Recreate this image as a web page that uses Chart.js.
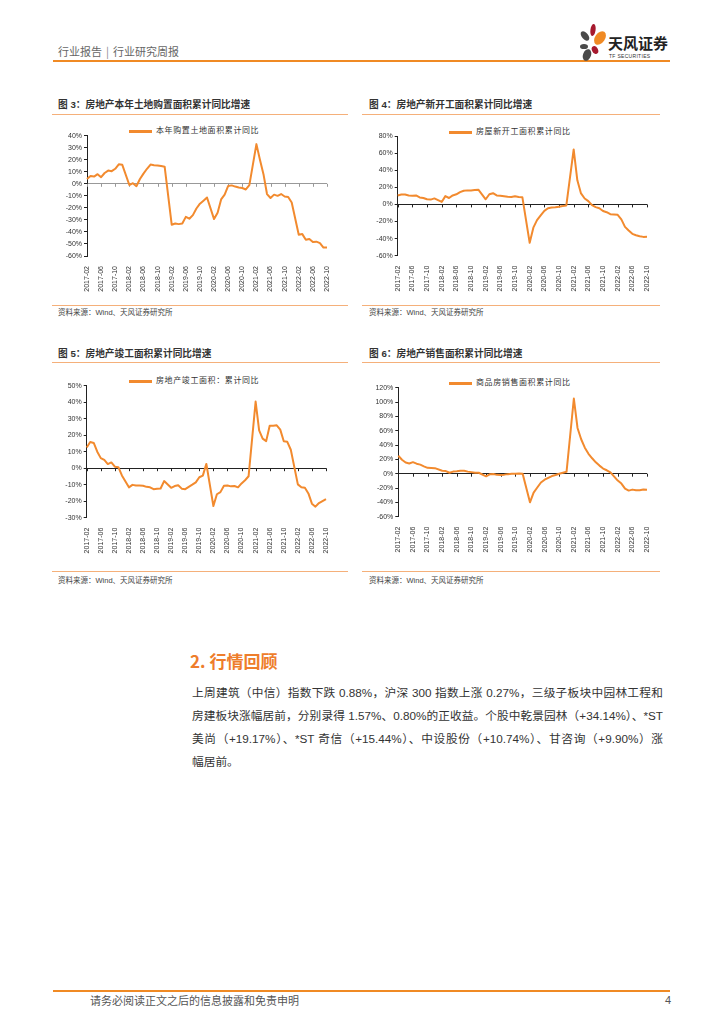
<!DOCTYPE html>
<html>
<head>
<meta charset="utf-8">
<script src="https://cdn.jsdelivr.net/npm/chart.js@4.4.1/dist/chart.umd.min.js"></script>
<style>
body{margin:0;width:724px;height:1024px;background:#fff;position:relative;overflow:hidden;font-family:"Liberation Sans","Noto Sans CJK SC",sans-serif}
.hline{position:absolute;height:1px;background:#F5B07A}
.ctitle{position:absolute;font-size:9.7px;font-weight:bold;color:#333;white-space:nowrap;line-height:12px}
.src{position:absolute;font-size:7.5px;color:#444;white-space:nowrap;line-height:10px}
.legend{position:absolute;font-size:8px;letter-spacing:0.6px;color:#333;white-space:nowrap;line-height:10px}
.legend i{position:absolute;left:0;top:4px;width:23px;height:2.5px;background:#F28A2E}
.legend span{position:absolute;left:27px;top:0}
canvas{position:absolute}
.para{position:absolute;left:192px;top:681px;width:471px;font-size:11.7px;color:#333;line-height:23px}
.para div{white-space:nowrap}
.para .j{text-align:justify;text-align-last:justify}
</style>
</head>
<body>

<!-- 页眉 -->
<div style="position:absolute;left:58px;top:44px;font-size:11px;color:#666;font-family:'Noto Sans CJK SC';line-height:14px">行业报告<span style="margin:0 4px;color:#888">|</span>行业研究周报</div>
<div style="position:absolute;left:53px;top:60px;width:617px;height:2px;background:#F08A24"></div>
<svg style="position:absolute;left:575px;top:22px" width="36" height="40" viewBox="0 0 36 40">
  <ellipse cx="18" cy="8" rx="2.6" ry="6" fill="#A6192E" transform="rotate(8 18 8)"/>
  <ellipse cx="25" cy="16" rx="5" ry="7.5" fill="#F08A24" transform="rotate(35 25 16)"/>
  <ellipse cx="10" cy="14" rx="3.2" ry="5.5" fill="#4A4A4A" transform="rotate(-40 10 14)"/>
  <ellipse cx="9" cy="24.5" rx="4" ry="2.6" fill="#4A4A4A"/>
  <ellipse cx="12" cy="33" rx="4" ry="6" fill="#4A4A4A" transform="rotate(20 12 33)"/>
  <ellipse cx="20" cy="28" rx="3" ry="4.2" fill="#A6192E" transform="rotate(-25 20 28)"/>
</svg>
<div style="position:absolute;left:608px;top:34px;font-size:15px;font-weight:bold;color:#222;font-family:'Noto Sans CJK SC';line-height:18px">天风证券</div>
<div style="position:absolute;left:609px;top:53px;font-size:5px;color:#333;letter-spacing:0.3px;line-height:6px">TF SECURITIES</div>

<!-- 图 3 / 图 4 -->
<div class="ctitle" style="left:58px;top:99px">图 3：房地产本年土地购置面积累计同比增速</div>
<div class="hline" style="left:52px;top:114px;width:296px"></div>
<div class="legend" style="left:129px;top:126px"><i></i><span>本年购置土地面积累计同比</span></div>
<canvas id="c3"></canvas>
<div class="hline" style="left:52px;top:305px;width:296px"></div>
<div class="src" style="left:58px;top:308px">资料来源：Wind、天风证券研究所</div>

<div class="ctitle" style="left:369px;top:99px">图 4：房地产新开工面积累计同比增速</div>
<div class="hline" style="left:362px;top:114px;width:298px"></div>
<div class="legend" style="left:449px;top:127px"><i></i><span>房屋新开工面积累计同比</span></div>
<canvas id="c4"></canvas>
<div class="hline" style="left:362px;top:305px;width:298px"></div>
<div class="src" style="left:369px;top:308px">资料来源：Wind、天风证券研究所</div>

<!-- 图 5 / 图 6 -->
<div class="ctitle" style="left:58px;top:348px">图 5：房地产竣工面积累计同比增速</div>
<div class="hline" style="left:52px;top:362px;width:296px"></div>
<div class="legend" style="left:129px;top:376px"><i></i><span>房地产竣工面积：累计同比</span></div>
<canvas id="c5"></canvas>
<div class="hline" style="left:52px;top:571px;width:296px"></div>
<div class="src" style="left:58px;top:576px">资料来源：Wind、天风证券研究所</div>

<div class="ctitle" style="left:369px;top:348px">图 6：房地产销售面积累计同比增速</div>
<div class="hline" style="left:362px;top:362px;width:298px"></div>
<div class="legend" style="left:449px;top:378px"><i></i><span>商品房销售面积累计同比</span></div>
<canvas id="c6"></canvas>
<div class="hline" style="left:362px;top:571px;width:298px"></div>
<div class="src" style="left:369px;top:576px">资料来源：Wind、天风证券研究所</div>

<!-- 正文 -->
<div style="position:absolute;left:190px;top:650px;font-size:17px;font-weight:bold;color:#EE7D2B;font-family:'Noto Sans CJK SC';line-height:22px">2. 行情回顾</div>
<div class="para">
  <div class="j">上周建筑（中信）指数下跌 0.88%，沪深 300 指数上涨 0.27%，三级子板块中园林工程和</div>
  <div class="j">房建板块涨幅居前，分别录得 1.57%、0.80%的正收益。个股中乾景园林（+34.14%）、*ST</div>
  <div class="j">美尚（+19.17%）、*ST 奇信（+15.44%）、中设股份（+10.74%）、甘咨询（+9.90%）涨</div>
  <div>幅居前。</div>
</div>

<!-- 页脚 -->
<div style="position:absolute;left:53px;top:990px;width:617px;height:2px;background:#F08A24"></div>
<div style="position:absolute;left:90px;top:993px;font-size:11px;color:#555;font-family:'Noto Sans CJK SC';line-height:14px">请务必阅读正文之后的信息披露和免责申明</div>
<div style="position:absolute;left:665px;top:993px;font-size:11px;color:#555;line-height:14px">4</div>

<script>
// 月份（1月不单独公布，为空值）
const months = [
  '2017-02','2017-03','2017-04','2017-05','2017-06','2017-07','2017-08','2017-09','2017-10','2017-11','2017-12',
  '2018-01','2018-02','2018-03','2018-04','2018-05','2018-06','2018-07','2018-08','2018-09','2018-10','2018-11','2018-12',
  '2019-01','2019-02','2019-03','2019-04','2019-05','2019-06','2019-07','2019-08','2019-09','2019-10','2019-11','2019-12',
  '2020-01','2020-02','2020-03','2020-04','2020-05','2020-06','2020-07','2020-08','2020-09','2020-10','2020-11','2020-12',
  '2021-01','2021-02','2021-03','2021-04','2021-05','2021-06','2021-07','2021-08','2021-09','2021-10','2021-11','2021-12',
  '2022-01','2022-02','2022-03','2022-04','2022-05','2022-06','2022-07','2022-08','2022-09','2022-10'
];

const tickLabels = [
  '2017-02','2017-06','2017-10','2018-02','2018-06','2018-10','2019-02','2019-06','2019-10',
  '2020-02','2020-06','2020-10','2021-02','2021-06','2021-10','2022-02','2022-06','2022-10'
];

// 图3 本年购置土地面积累计同比 (%)
const landYoY = [
  4, 6.5, 6, 8, 5.5, 9, 11, 10.5, 12.5, 16.2, 15.8,
  null, -1, 0.5, -2, 4, 8.5, 12.5, 16, 15.5, 15.3, 14.8, 14.2,
  null, -34, -33, -33.5, -33, -27.5, -29, -26, -20.5, -16.5, -14, -11.4,
  null, -29.3, -24, -13, -9, -1.8, -1.3, -2.3, -3, -3.5, -4.7, -1.1,
  null, 33, 20, 8, -8.5, -11.8, -9, -10, -8.5, -10.5, -11, -15.5,
  null, -42.3, -41.8, -46.5, -45.8, -48.3, -48.1, -49.3, -53, -53
];

// 图4 房屋新开工面积累计同比 (%)
const startsYoY = [
  10.4, 11.6, 11.5, 10.5, 10.2, 10.5, 8.2, 7.5, 6.0, 5.6, 7.0,
  null, 2.9, 9.7, 7.5, 10.5, 11.8, 14.4, 15.9, 16.4, 16.3, 16.8, 17.2,
  null, 6.0, 11.9, 13.1, 10.5, 10.1, 9.5, 8.9, 8.6, 9.5, 8.6, 8.5,
  null, -44.9, -27.2, -18.4, -12.8, -7.6, -4.5, -3.6, -3.4, -2.7, -2.0, -1.2,
  null, 64.3, 28.2, 12.8, 6.9, 3.8, -0.9, -3.2, -4.5, -7.7, -9.1, -11.4,
  null, -12.2, -17.5, -26.3, -30.6, -34.4, -36.1, -37.2, -38.0, -37.8
];

// 图5 房地产竣工面积累计同比 (%)
const completedYoY = [
  12.5, 15.9, 15.3, 10.0, 6.1, 5.0, 2.5, 3.5, 0.9, 0.6, -4.4,
  null, -11.6, -10.1, -10.5, -10.5, -10.6, -11.3, -11.6, -12.7, -12.5, -12.3, -7.8,
  null, -11.9, -10.8, -10.3, -12.4, -12.7, -11.3, -10.0, -8.6, -5.5, -4.5, 2.6,
  null, -22.9, -15.8, -14.5, -10.7, -10.5, -11.0, -10.8, -11.6, -9.2, -7.3, -4.9,
  null, 40.4, 22.9, 17.9, 16.4, 25.7, 25.7, 26.0, 23.4, 16.3, 16.0, 11.2,
  null, -9.8, -11.5, -11.9, -15.3, -21.5, -23.3, -21.1, -19.9, -18.7
];

// 图6 商品房销售面积累计同比 (%)
const salesYoY = [
  25.1, 19.5, 15.7, 14.3, 16.1, 14.0, 12.7, 10.3, 8.2, 7.9, 7.7,
  null, 4.1, 3.6, 1.3, 2.9, 3.3, 4.2, 4.0, 2.9, 2.2, 1.4, 1.3,
  null, -3.6, -0.9, -0.3, -1.6, -1.8, -1.3, -0.6, -0.1, 0.1, 0.2, -0.1,
  null, -39.9, -26.3, -19.3, -12.3, -8.4, -5.8, -3.3, -1.8, 0, 1.3, 2.6,
  null, 104.9, 63.8, 48.1, 36.3, 27.7, 21.5, 15.9, 11.3, 7.2, 4.8, 1.9,
  null, -9.6, -13.8, -20.9, -23.6, -22.2, -23.1, -23.0, -22.2, -22.3
];

const LINE_COLOR = '#F28A2E';
const YW = 34;  // y轴宽度
const XH = 38;  // x轴高度

// 零轴上的刻度短线
const zeroTicks = {
  id: 'zeroTicks',
  beforeDatasetsDraw(chart, args, opts) {
    const x = chart.scales.x, y = chart.scales.y;
    const y0 = y.getPixelForValue(0);
    const ctx = chart.ctx;
    ctx.save();
    ctx.strokeStyle = opts.color;
    ctx.lineWidth = 1;
    ctx.beginPath();
    tickLabels.forEach(m => {
      const px = Math.round(x.getPixelForValue(months.indexOf(m))) + 0.5;
      ctx.moveTo(px, y0);
      ctx.lineTo(px, y0 + 3);
    });
    ctx.stroke();
    ctx.restore();
  }
};

function makeChart(id, box, area, values, yMin, yMax, yStep, zeroColor) {
  const cv = document.getElementById(id);
  cv.width = box.w; cv.height = box.h;
  cv.style.left = box.x + 'px'; cv.style.top = box.y + 'px';
  cv.style.width = box.w + 'px'; cv.style.height = box.h + 'px';

  const pad = {
    left: area.x - box.x - YW,
    top: area.y - box.y,
    right: box.x + box.w - (area.x + area.w),
    bottom: box.y + box.h - (area.y + area.h) - XH
  };

  return new Chart(cv, {
    type: 'line',
    data: {
      labels: months,
      datasets: [{
        data: values,
        borderColor: LINE_COLOR,
        borderWidth: 2,
        pointRadius: 0,
        tension: 0,
        spanGaps: true,
        borderJoinStyle: 'round'
      }]
    },
    options: {
      responsive: false,
      animation: false,
      layout: { padding: pad },
      plugins: {
        legend: { display: false },
        tooltip: { enabled: false },
        zeroTicks: { color: zeroColor }
      },
      scales: {
        x: {
          grid: { display: false },
          border: { display: false },
          afterFit: s => { s.height = XH; },
          ticks: {
            autoSkip: false,
            minRotation: 90,
            maxRotation: 90,
            padding: 2,
            color: '#333',
            font: { family: 'Liberation Sans', size: 7 },
            callback: (v, i) => tickLabels.includes(months[i]) ? months[i] : ''
          }
        },
        y: {
          min: yMin,
          max: yMax,
          afterFit: s => { s.width = YW; },
          border: { display: true, color: '#222', width: 1 },
          grid: {
            drawOnChartArea: true,
            drawTicks: true,
            tickLength: 3,
            tickColor: '#222',
            color: c => c.tick && c.tick.value === 0 ? zeroColor : 'rgba(0,0,0,0)'
          },
          ticks: {
            stepSize: yStep,
            padding: 2,
            color: '#333',
            font: { family: 'Liberation Sans', size: 7 },
            callback: v => v + '%'
          }
        }
      }
    },
    plugins: [zeroTicks]
  });
}

makeChart('c3', { x: 50, y: 120, w: 292, h: 180 }, { x: 87, y: 135.7, w: 240, h: 120.3 },
  landYoY, -60, 40, 10, '#999');
makeChart('c4', { x: 360, y: 120, w: 300, h: 180 }, { x: 397.7, y: 136, w: 249.3, h: 119.7 },
  startsYoY, -60, 80, 20, '#222');
makeChart('c5', { x: 50, y: 370, w: 292, h: 200 }, { x: 86.7, y: 385.7, w: 239.3, h: 132 },
  completedYoY, -30, 50, 10, '#222');
makeChart('c6', { x: 360, y: 370, w: 300, h: 200 }, { x: 398.3, y: 387.7, w: 248.7, h: 129 },
  salesYoY, -60, 120, 20, '#222');
</script>
</body>
</html>
